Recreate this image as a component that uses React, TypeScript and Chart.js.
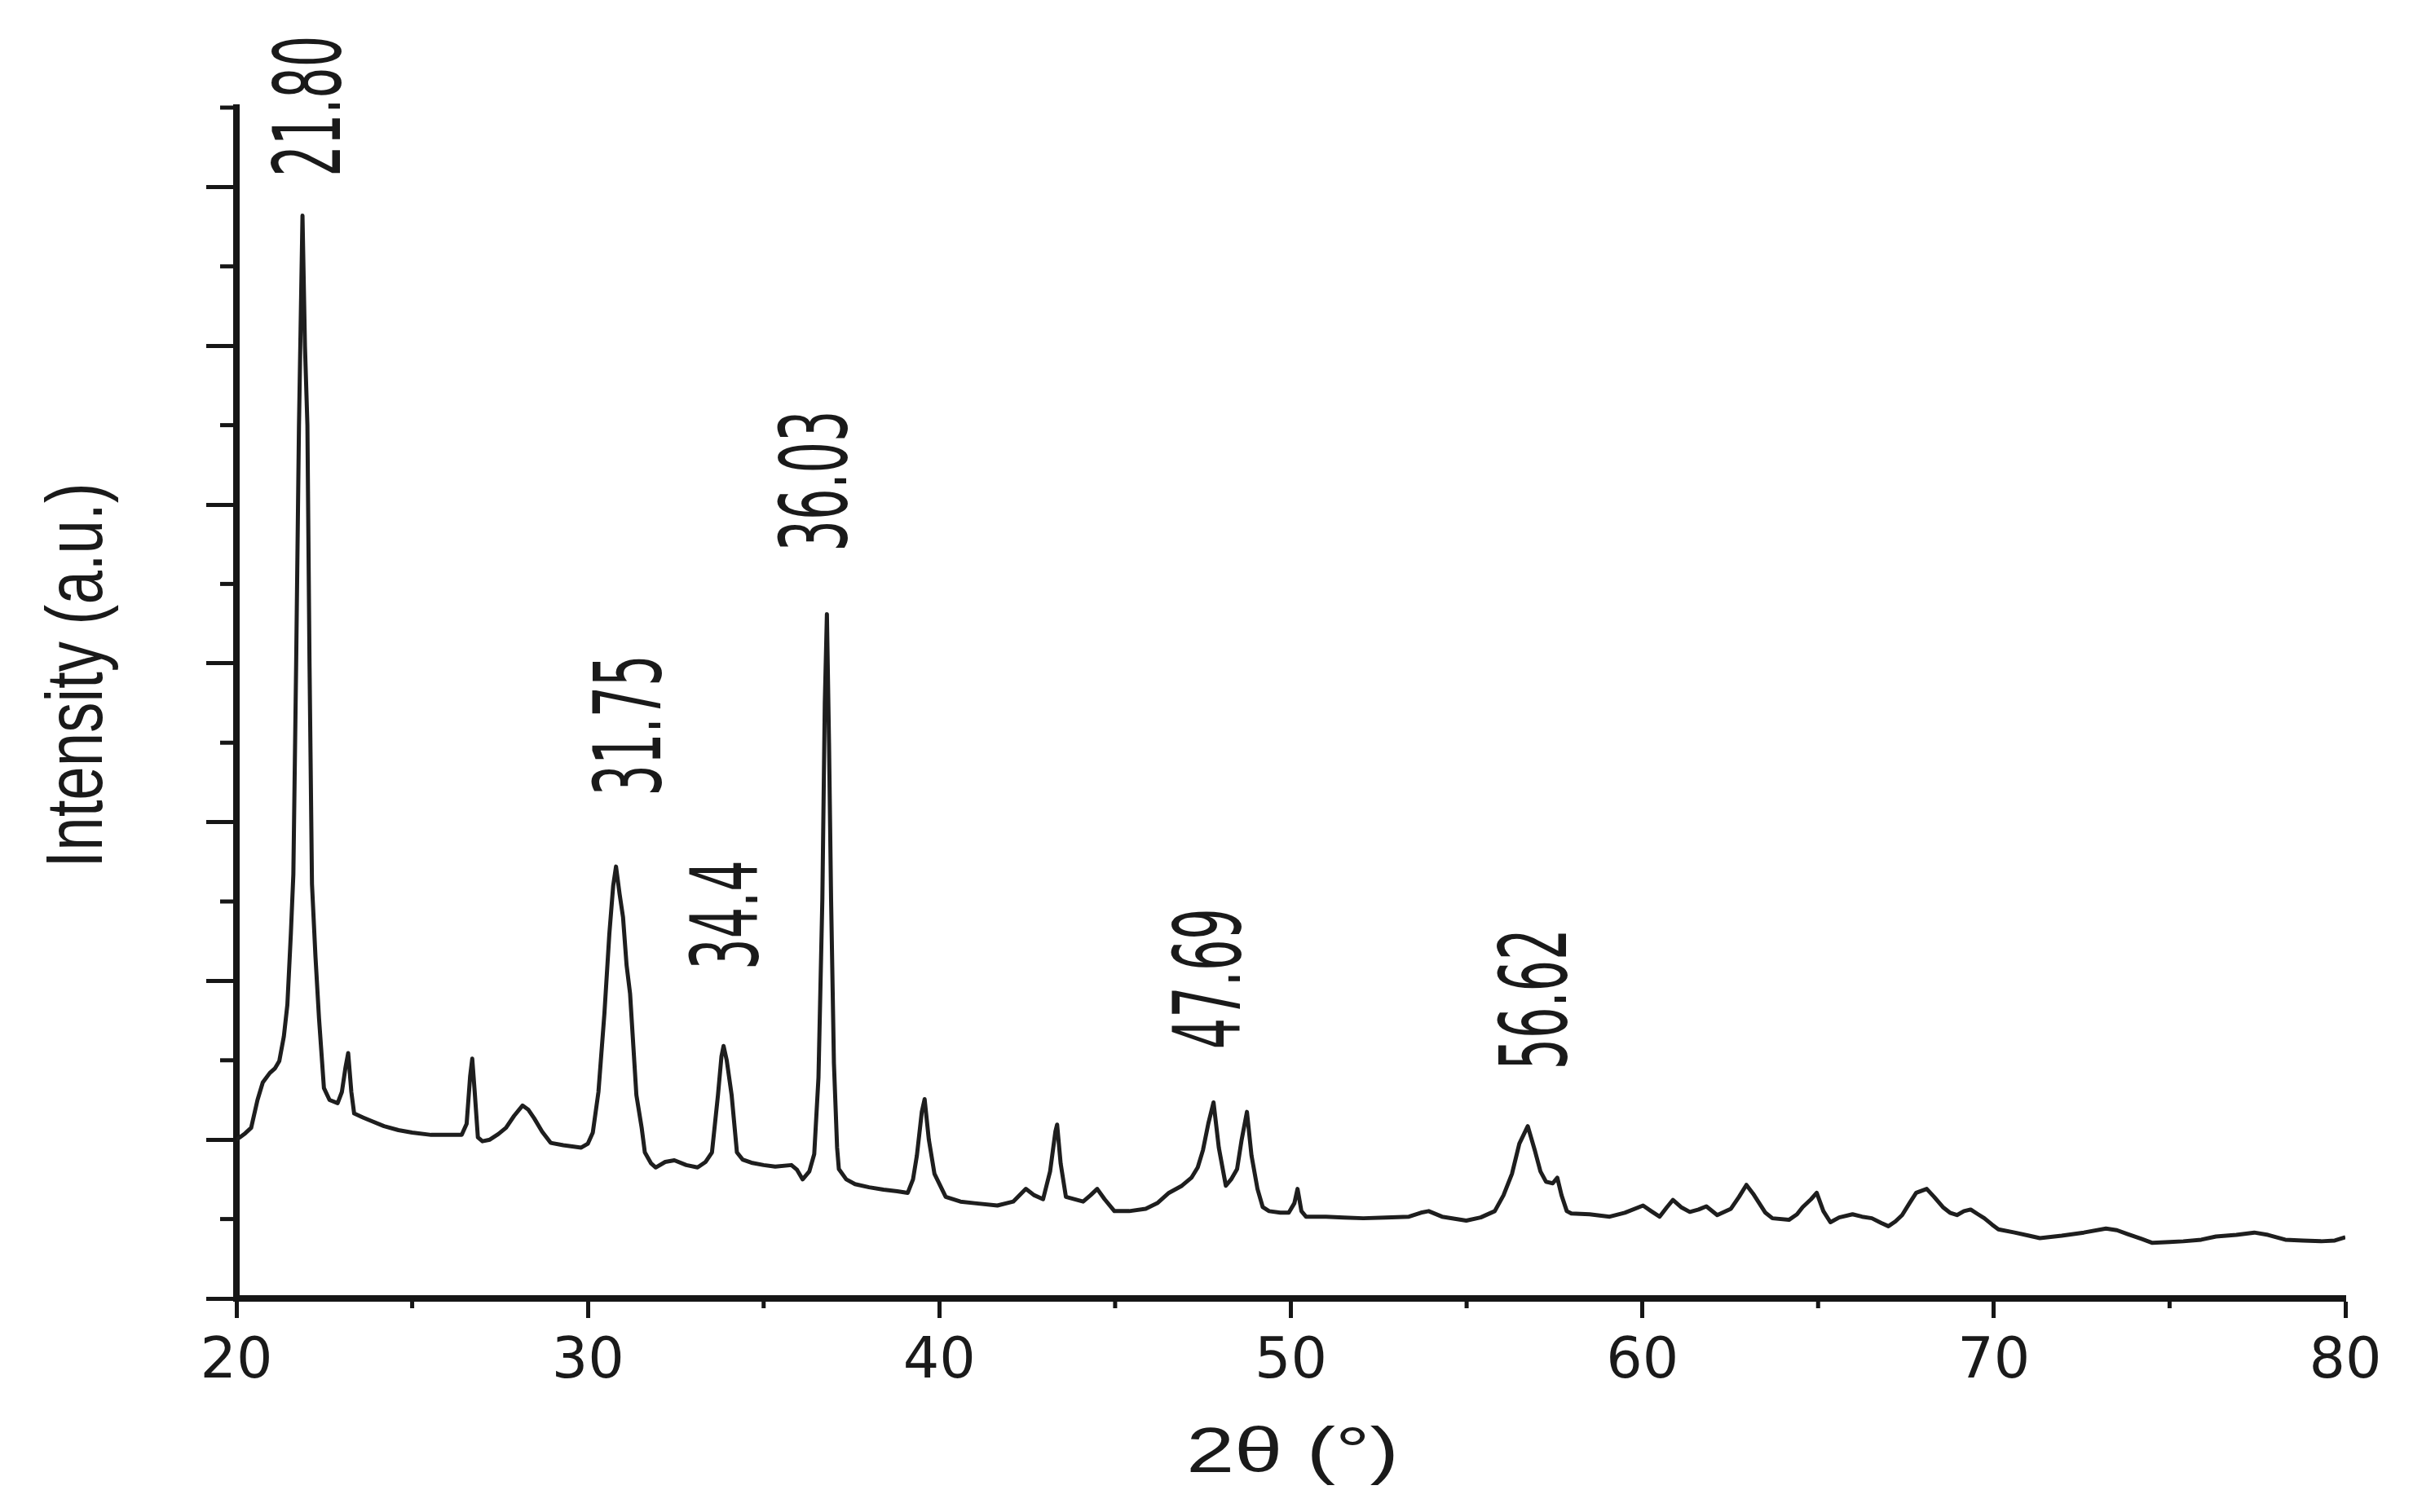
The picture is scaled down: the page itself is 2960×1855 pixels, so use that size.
import React, { useEffect, useRef } from 'react';
import { Chart, registerables } from 'chart.js';

Chart.register(...registerables);

const twoTheta: number[] = [
  20.0, 20.1, 20.25, 20.42, 20.6, 20.75, 20.95, 21.1, 21.22, 21.35, 21.45, 21.55, 21.62, 21.7, 21.78, 21.88,
  21.95, 22.02, 22.08, 22.15, 22.25, 22.35, 22.49, 22.65, 22.88, 23.0, 23.1, 23.18, 23.27, 23.35, 23.6, 23.81,
  24.2, 24.61, 25.0, 25.54, 26.0, 26.41, 26.55, 26.65, 26.71, 26.78, 26.87, 27.0, 27.21, 27.45, 27.67, 27.9,
  28.14, 28.3, 28.47, 28.7, 28.94, 29.3, 29.81, 30.0, 30.14, 30.3, 30.47, 30.61, 30.72, 30.8, 30.9, 31.0,
  31.1, 31.2, 31.38, 31.53, 31.62, 31.8, 31.93, 32.2, 32.46, 32.8, 33.12, 33.35, 33.53, 33.7, 33.8, 33.86,
  33.95, 34.09, 34.24, 34.4, 34.65, 35.0, 35.33, 35.79, 35.95, 36.11, 36.3, 36.44, 36.56, 36.67, 36.74, 36.8,
  36.86, 36.92, 37.0, 37.09, 37.14, 37.35, 37.6, 38.0, 38.41, 38.8, 39.1, 39.25, 39.36, 39.5, 39.58, 39.7,
  39.86, 40.18, 40.6, 41.0, 41.65, 42.1, 42.46, 42.7, 42.95, 43.15, 43.3, 43.35, 43.45, 43.6, 44.09, 44.3,
  44.49, 44.7, 44.98, 45.4, 45.87, 46.2, 46.53, 46.9, 47.17, 47.35, 47.5, 47.65, 47.8, 47.95, 48.15, 48.3,
  48.47, 48.6, 48.75, 48.88, 49.05, 49.2, 49.38, 49.7, 49.94, 50.1, 50.19, 50.3, 50.43, 51.0, 51.5, 52.06,
  52.7, 53.36, 53.7, 53.92, 54.3, 54.99, 55.4, 55.8, 56.05, 56.29, 56.5, 56.74, 56.95, 57.1, 57.26, 57.45,
  57.58, 57.7, 57.85, 57.98, 58.5, 59.07, 59.5, 60.02, 60.25, 60.49, 60.7, 60.87, 61.1, 61.35, 61.6, 61.82,
  62.13, 62.52, 62.75, 62.96, 63.15, 63.31, 63.5, 63.7, 64.17, 64.4, 64.56, 64.8, 64.96, 65.15, 65.35, 65.6,
  65.98, 66.25, 66.53, 66.8, 67.0, 67.2, 67.39, 67.6, 67.79, 68.09, 68.3, 68.55, 68.75, 68.95, 69.15, 69.34,
  69.55, 69.73, 69.95, 70.13, 70.59, 71.0, 71.31, 71.93, 72.56, 73.19, 73.5, 73.81, 74.2, 74.51, 75.0, 75.39,
  75.9, 76.32, 76.9, 77.41, 77.8, 78.29, 78.8, 79.31, 79.7, 80.0,
];

const intensity: number[] = [
  2.0, 2.03, 2.08, 2.15, 2.5, 2.72, 2.84, 2.9, 2.99, 3.3, 3.7, 4.6, 5.34, 8.0, 11.0, 13.64,
  12.0, 11.0, 8.0, 5.22, 4.3, 3.53, 2.65, 2.5, 2.46, 2.6, 2.9, 3.09, 2.6, 2.33, 2.28, 2.24,
  2.17, 2.12, 2.09, 2.06, 2.06, 2.06, 2.2, 2.8, 3.02, 2.6, 2.03, 1.98, 2.0, 2.07, 2.15, 2.3,
  2.43, 2.38, 2.27, 2.1, 1.96, 1.93, 1.9, 1.95, 2.09, 2.6, 3.59, 4.59, 5.2, 5.44, 5.1, 4.8,
  4.2, 3.84, 2.56, 2.15, 1.84, 1.7, 1.65, 1.72, 1.74, 1.68, 1.65, 1.72, 1.84, 2.56, 3.05, 3.18,
  3.0, 2.56, 1.84, 1.75, 1.71, 1.68, 1.66, 1.68, 1.62, 1.5, 1.6, 1.82, 2.78, 5.02, 7.5, 8.62,
  7.0, 5.0, 2.96, 1.9, 1.63, 1.5, 1.44, 1.4, 1.37, 1.35, 1.33, 1.5, 1.8, 2.35, 2.51, 2.0,
  1.57, 1.28, 1.22, 1.2, 1.17, 1.22, 1.38, 1.3, 1.25, 1.6, 2.1, 2.19, 1.7, 1.28, 1.22, 1.3,
  1.38, 1.25, 1.1, 1.1, 1.13, 1.2, 1.33, 1.42, 1.52, 1.65, 1.87, 2.2, 2.47, 1.9, 1.42, 1.5,
  1.63, 2.0, 2.35, 1.8, 1.38, 1.15, 1.1, 1.08, 1.08, 1.2, 1.38, 1.1, 1.03, 1.03, 1.02, 1.01,
  1.02, 1.03, 1.08, 1.1, 1.03, 0.98, 1.02, 1.1, 1.3, 1.57, 1.95, 2.17, 1.85, 1.6, 1.47, 1.45,
  1.52, 1.3, 1.1, 1.07, 1.06, 1.03, 1.08, 1.17, 1.1, 1.03, 1.15, 1.24, 1.15, 1.09, 1.12, 1.16,
  1.05, 1.13, 1.28, 1.43, 1.32, 1.21, 1.08, 1.01, 0.99, 1.06, 1.15, 1.25, 1.33, 1.1, 0.96, 1.02,
  1.06, 1.03, 1.01, 0.95, 0.91, 0.97, 1.05, 1.2, 1.33, 1.38, 1.28, 1.15, 1.08, 1.05, 1.1, 1.12,
  1.06, 1.01, 0.93, 0.87, 0.83, 0.79, 0.76, 0.79, 0.83, 0.88, 0.86, 0.81, 0.75, 0.7, 0.71, 0.72,
  0.74, 0.78, 0.8, 0.83, 0.8, 0.74, 0.73, 0.72, 0.73, 0.77,
];

const xMajorTicks: number[] = [20, 30, 40, 50, 60, 70, 80];
const xMinorTicks: number[] = [25, 35, 45, 55, 65, 75];
const yMajorTicks: number[] = [0, 2, 4, 6, 8, 10, 12, 14];
const yMinorTicks: number[] = [1, 3, 5, 7, 9, 11, 13, 15];

const peakLabels: string[] = ['21.80', '31.75', '34.4', '36.03', '47.69', '56.62'];
const peakLabelTheta: number[] = [22.0, 31.12, 33.87, 36.39, 47.6, 56.88];
const peakLabelIntensity: number[] = [14.13, 6.33, 4.14, 9.41, 3.14, 2.88];

const xTitle = '2θ (°)';
const yTitle = 'Intensity (a.u.)';

const AXIS_COLOR = '#161616';
const TEXT_COLOR = '#1a1a1a';

const decorPlugin = {
  id: 'decor',
  afterDraw(chart: any) {
    const ctx: CanvasRenderingContext2D = chart.ctx;
    const xs = chart.scales.x;
    const ys = chart.scales.y;
    const area = chart.chartArea;
    ctx.save();

    // minor ticks (shorter than the major ones)
    ctx.strokeStyle = AXIS_COLOR;
    ctx.lineWidth = 5;
    ctx.lineCap = 'butt';
    yMinorTicks.forEach((v) => {
      const py = ys.getPixelForValue(v);
      ctx.beginPath();
      ctx.moveTo(area.left - 20, py);
      ctx.lineTo(area.left, py);
      ctx.stroke();
    });
    xMinorTicks.forEach((v) => {
      const px = xs.getPixelForValue(v);
      ctx.beginPath();
      ctx.moveTo(px, area.bottom);
      ctx.lineTo(px, area.bottom + 12);
      ctx.stroke();
    });

    ctx.fillStyle = TEXT_COLOR;

    // rotated peak labels
    ctx.font = '114px "DejaVu Sans"';
    ctx.textAlign = 'left';
    ctx.textBaseline = 'alphabetic';
    peakLabels.forEach((t, i) => {
      const cx = xs.getPixelForValue(peakLabelTheta[i]);
      const by = ys.getPixelForValue(peakLabelIntensity[i]);
      ctx.save();
      ctx.translate(cx + 41, by);
      ctx.rotate(-Math.PI / 2);
      ctx.scale(0.53, 1);
      ctx.fillText(t, 0, 0);
      ctx.restore();
    });

    // y axis title
    ctx.font = '98px "Liberation Sans", Arial, sans-serif';
    ctx.textAlign = 'center';
    ctx.save();
    ctx.translate(area.left - 165, (area.top + area.bottom) / 2 - 34);
    ctx.rotate(-Math.PI / 2);
    ctx.scale(0.76, 1);
    ctx.fillText(yTitle, 0, 0);
    ctx.restore();

    // x axis title
    ctx.font = '78px "Liberation Sans", Arial, sans-serif';
    ctx.save();
    ctx.translate((area.left + area.right) / 2 + 2, area.bottom + 213);
    ctx.scale(1.36, 1);
    ctx.fillText(xTitle, 0, 0);
    ctx.restore();

    ctx.restore();
  },
};

export default function App() {
  const canvasRef = useRef<HTMLCanvasElement | null>(null);

  useEffect(() => {
    const canvas = canvasRef.current;
    if (!canvas) return;
    const points = twoTheta.map((x, i) => ({ x, y: intensity[i] }));
    const chart = new Chart(canvas, {
      type: 'scatter',
      data: {
        datasets: [
          {
            data: points,
            showLine: true,
            borderColor: '#1e1e1e',
            borderWidth: 5,
            borderJoinStyle: 'round',
            pointRadius: 0,
            pointHoverRadius: 0,
            tension: 0,
            fill: false,
          },
        ],
      },
      options: {
        responsive: false,
        animation: false,
        devicePixelRatio: 1,
        layout: { padding: { left: 253, top: 132, right: 83, bottom: 128 } },
        plugins: {
          legend: { display: false },
          tooltip: { enabled: false },
          title: { display: false },
        },
        scales: {
          x: {
            type: 'linear',
            min: 20,
            max: 80,
            afterBuildTicks: (scale: any) => {
              scale.ticks = xMajorTicks.map((v) => ({ value: v }));
            },
            grid: {
              drawOnChartArea: false,
              drawTicks: true,
              tickLength: 24,
              tickWidth: 5,
              tickColor: AXIS_COLOR,
            },
            border: { display: true, width: 8, color: AXIS_COLOR },
            ticks: {
              autoSkip: false,
              maxRotation: 0,
              includeBounds: false,
              padding: 13,
              color: TEXT_COLOR,
              font: { family: '"DejaVu Sans"', size: 70 },
              callback: (v: any) => String(v),
            },
          },
          y: {
            type: 'linear',
            min: 0,
            max: 15,
            afterBuildTicks: (scale: any) => {
              scale.ticks = yMajorTicks.map((v) => ({ value: v }));
            },
            grid: {
              drawOnChartArea: false,
              drawTicks: true,
              tickLength: 37,
              tickWidth: 5,
              tickColor: AXIS_COLOR,
            },
            border: { display: true, width: 8, color: AXIS_COLOR },
            ticks: { display: false, includeBounds: false },
          },
        },
      },
      plugins: [decorPlugin],
    } as any);
    return () => chart.destroy();
  }, []);

  return (
    <div style={{ position: 'absolute', left: 0, top: 0, width: 2960, height: 1855, background: '#ffffff' }}>
      <canvas ref={canvasRef} width={2960} height={1855} style={{ display: 'block', width: 2960, height: 1855 }} />
    </div>
  );
}
